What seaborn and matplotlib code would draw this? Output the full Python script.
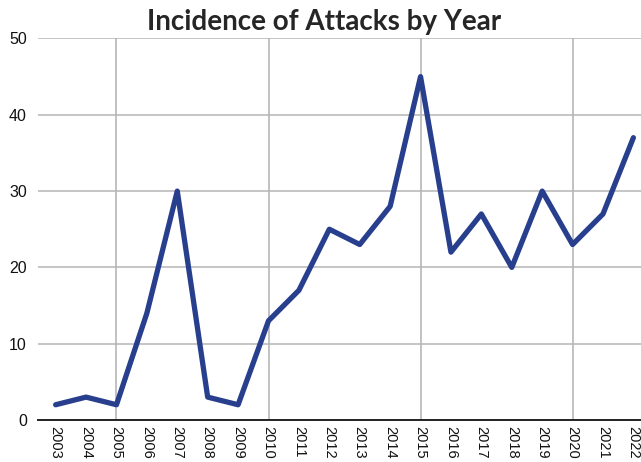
import matplotlib
matplotlib.use("Agg")
import matplotlib.pyplot as plt
from matplotlib.ticker import MultipleLocator
import pandas as pd
import seaborn as sns

years = list(range(2003, 2023))
attacks = [2, 3, 2, 14, 30, 3, 2, 13, 17, 25, 23, 28, 45, 22, 27, 20, 30, 23, 27, 37]
title = "Incidence of Attacks by Year"

sns.set_theme(style="white")
plt.rcParams["font.family"] = ["Liberation Sans", "DejaVu Sans"]

df = pd.DataFrame({"year": years, "attacks": attacks})

fig = plt.figure(figsize=(6.41, 4.62), dpi=100)
ax = fig.add_axes([0.0593, 0.0909, 0.9407, 0.8258])

sns.lineplot(data=df, x="year", y="attacks", ax=ax, color="#283f8e",
             linewidth=3.8, solid_joinstyle="round", solid_capstyle="round",
             zorder=3)

ax.set_xlim(2002.42, 2022.25)
ax.set_ylim(0, 50)
ax.set_xticks(years)
ax.set_xticklabels([str(y) for y in years], rotation=-90, fontsize=10.5, color="#111111")
ax.xaxis.set_minor_locator(MultipleLocator(5))
ax.xaxis.remove_overlapping_locs = False
ax.set_yticks(range(0, 51, 10))
ax.tick_params(axis="y", labelsize=11.5, pad=8, length=0, labelcolor="#111111")
ax.tick_params(axis="x", which="both", length=0, pad=4)

ax.set_axisbelow(True)
ax.grid(axis="y", which="major", color="#b5b5b5", linewidth=1.1)
ax.grid(axis="x", which="minor", color="#b0b0b0", linewidth=1.1)

for side in ["top", "right", "left"]:
    ax.spines[side].set_visible(False)
ax.spines["bottom"].set_color("#222222")
ax.spines["bottom"].set_linewidth(1.4)

ax.set_xlabel("")
ax.set_ylabel("")

fig.text(0.505, 0.952, title, ha="center", va="center", fontsize=20,
         fontweight="bold", family=["Lato", "DejaVu Sans"])

fig.savefig("out.png", dpi=100)
